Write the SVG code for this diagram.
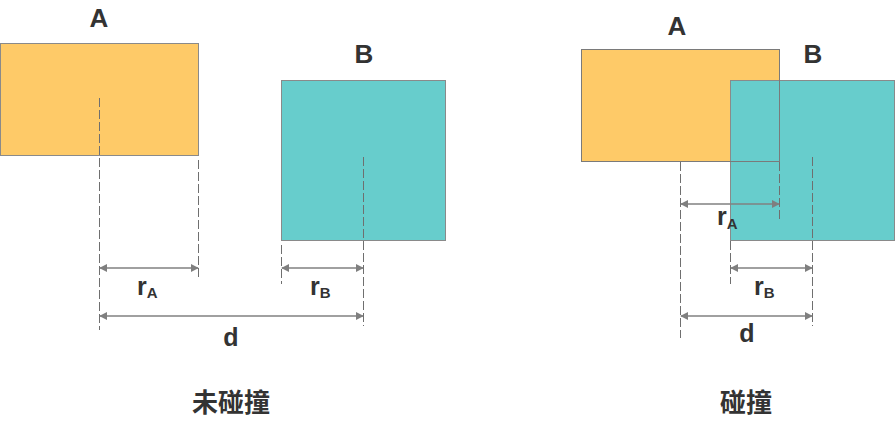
<svg xmlns="http://www.w3.org/2000/svg" width="895" height="427" viewBox="0 0 895 427">
<defs>
<marker id="ah" viewBox="0 0 10 10" refX="9" refY="5" markerWidth="8" markerHeight="8" markerUnits="userSpaceOnUse" orient="auto-start-reverse">
<path d="M0,0 L10,5 L0,10 z" fill="#7f7f7f"/>
</marker>
</defs>
<style>
.ra{fill:#FECA68;stroke:#8a8a8a;stroke-width:1}
.rb{fill:#67CDCC;stroke:#8a8a8a;stroke-width:1}
.ol{fill:none;stroke:#7a7a7a;stroke-width:1}
.dash{stroke:#6f6f6f;stroke-width:1;stroke-dasharray:9,3;fill:none}
.dim{stroke:#808080;stroke-width:1.5;fill:none;marker-start:url(#ah);marker-end:url(#ah)}
.lbl{font-family:"Liberation Sans",Arial,sans-serif;font-weight:bold;font-size:25px;fill:#333333}
.big{font-size:26px}
.sub{font-size:15px}
.cjk{font-family:"Noto Sans CJK SC","Liberation Sans",sans-serif;font-weight:bold;font-size:26px;fill:#333333}
</style>
<g id="left-A"><rect class="ra" x="0.5" y="43.5" width="198" height="112"/><text class="lbl big" x="99" y="27" text-anchor="middle">A</text></g>
<g id="left-B"><rect class="rb" x="281.5" y="80.5" width="164" height="160"/><text class="lbl big" x="364" y="63" text-anchor="middle">B</text></g>
<g id="right-A"><rect class="ra" x="581.5" y="49.5" width="198" height="112"/><text class="lbl big" x="677" y="35" text-anchor="middle">A</text></g>
<g id="right-B"><rect class="rb" x="730.5" y="80.5" width="164" height="160"/><text class="lbl big" x="813" y="63" text-anchor="middle">B</text></g>
<g id="right-A-outline"><rect class="ol" x="581.5" y="49.5" width="198" height="112"/></g>
<g id="connectors">
<line class="dash" x1="99.5" y1="98" x2="99.5" y2="330"/>
<line class="dash" x1="198.5" y1="160" x2="198.5" y2="280"/>
<line class="dash" x1="281.5" y1="245" x2="281.5" y2="284"/>
<line class="dash" x1="363.5" y1="157" x2="363.5" y2="326"/>
<line class="dim" x1="100" y1="268" x2="198" y2="268"/>
<line class="dim" x1="282" y1="268" x2="363" y2="268"/>
<line class="dim" x1="100" y1="316" x2="363" y2="316"/>
<line class="dash" x1="680.5" y1="162" x2="680.5" y2="338"/>
<line class="dash" x1="779.5" y1="162" x2="779.5" y2="222"/>
<line class="dash" x1="730.5" y1="241" x2="730.5" y2="284"/>
<line class="dash" x1="812.5" y1="157" x2="812.5" y2="326"/>
<line class="dim" x1="681" y1="204" x2="779" y2="204"/>
<line class="dim" x1="731" y1="268" x2="812" y2="268"/>
<line class="dim" x1="681" y1="316" x2="812" y2="316"/>
</g>
<g id="labels">
<text class="lbl" x="137" y="295">r<tspan class="sub" dy="3">A</tspan></text>
<text class="lbl" x="310" y="295">r<tspan class="sub" dy="3">B</tspan></text>
<text class="lbl" x="231" y="346" text-anchor="middle">d</text>
<text class="lbl" x="717" y="225">r<tspan class="sub" dy="4">A</tspan></text>
<text class="lbl" x="754" y="295">r<tspan class="sub" dy="3">B</tspan></text>
<text class="lbl" x="747" y="342" text-anchor="middle">d</text>
<text class="cjk" x="231" y="412" text-anchor="middle">未碰撞</text>
<text class="cjk" x="746" y="412" text-anchor="middle">碰撞</text>
</g>
</svg>
